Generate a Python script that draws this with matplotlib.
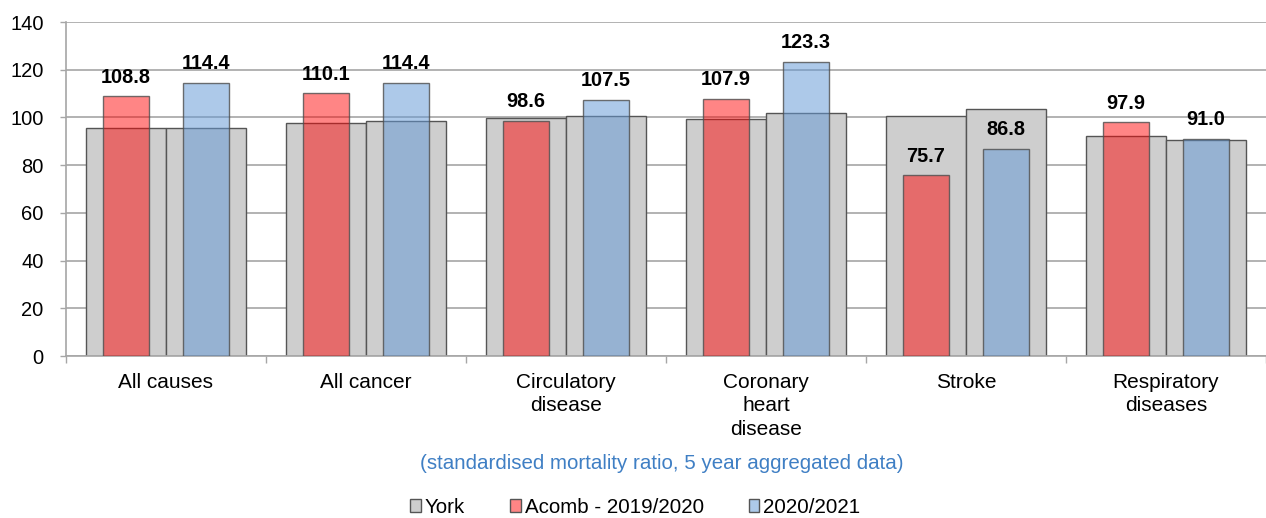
import matplotlib.pyplot as plt
import matplotlib.patches as patches
import numpy as np

plt.rcParams['font.family'] = ['Liberation Sans', 'DejaVu Sans']

categories = ['All causes', 'All cancer', 'Circulatory\ndisease',
              'Coronary\nheart\ndisease', 'Stroke', 'Respiratory\ndiseases']
# York comparator, one per period
york_2019 = [95.7, 97.8, 99.7, 99.3, 100.5, 92.1]
york_2020 = [95.6, 98.5, 100.7, 101.7, 103.5, 90.5]
# Acomb ward
acomb_2019 = [108.8, 110.1, 98.6, 107.9, 75.7, 97.9]
acomb_2020 = [114.4, 114.4, 107.5, 123.3, 86.8, 91.0]

grey = '#cecece'
edge = '#555555'
red = (1.0, 0.0, 0.0, 0.48)
blue = (0.39, 0.60, 0.84, 0.52)

fig = plt.figure(figsize=(12.66, 5.18), dpi=100)
ax = fig.add_axes([0.0521, 0.3127, 0.9479, 0.6448])

x = np.arange(len(categories))
off = 0.2
ax.bar(x - off, york_2019, width=0.4, color=grey, edgecolor=edge, linewidth=1, zorder=2)
ax.bar(x + off, york_2020, width=0.4, color=grey, edgecolor=edge, linewidth=1, zorder=2)
ax.bar(x - off, acomb_2019, width=0.233, color=red, edgecolor=(0.3, 0.3, 0.3, 0.8), linewidth=1, zorder=3)
ax.bar(x + off, acomb_2020, width=0.233, color=blue, edgecolor=(0.3, 0.3, 0.3, 0.8), linewidth=1, zorder=3)

for xs, vals in ((x - off, acomb_2019), (x + off, acomb_2020)):
    for xi, v in zip(xs, vals):
        ax.annotate(f'{v:.1f}', (xi, v), xytext=(0, 7), textcoords='offset points',
                    ha='center', va='bottom', fontsize=14.3, fontweight='bold', zorder=5)

ax.set_xlim(-0.5, len(categories) - 0.5)
ax.set_ylim(0, 140)
ax.set_yticks(range(0, 141, 20))
ax.yaxis.grid(True, color='#a6a6a6', linewidth=1.2, zorder=0)
ax.set_axisbelow(True)

ax.set_xticks(x)
ax.set_xticklabels(categories, fontsize=15, linespacing=1.3)
ax.tick_params(axis='x', length=0, pad=12)
ax.set_xticks(np.arange(-0.5, len(categories), 1), minor=True)
ax.tick_params(axis='x', which='minor', length=5, color='#a6a6a6', width=1)
ax.tick_params(axis='y', labelsize=14.5, length=4, color='#a6a6a6', width=1, pad=12)

for s in ('top', 'right'):
    ax.spines[s].set_visible(False)
for s in ('left', 'bottom'):
    ax.spines[s].set_color('#a6a6a6')
    ax.spines[s].set_linewidth(1.2)

fig.text(0.5225, 0.105, '(standardised mortality ratio, 5 year aggregated data)',
         ha='center', va='center', fontsize=14.8, color='#3f7fc4')

handles = [patches.Patch(facecolor=grey, edgecolor=edge),
           patches.Patch(facecolor=red, edgecolor=edge),
           patches.Patch(facecolor=blue, edgecolor=edge)]
fig.legend(handles, ['York', 'Acomb - 2019/2020', '2020/2021'], loc='center',
           bbox_to_anchor=(0.502, 0.02), ncol=3, frameon=False, fontsize=14.8,
           handlelength=0.5, handleheight=0.6, handletextpad=0.2, columnspacing=2.2)

fig.savefig('out.png', dpi=100)
